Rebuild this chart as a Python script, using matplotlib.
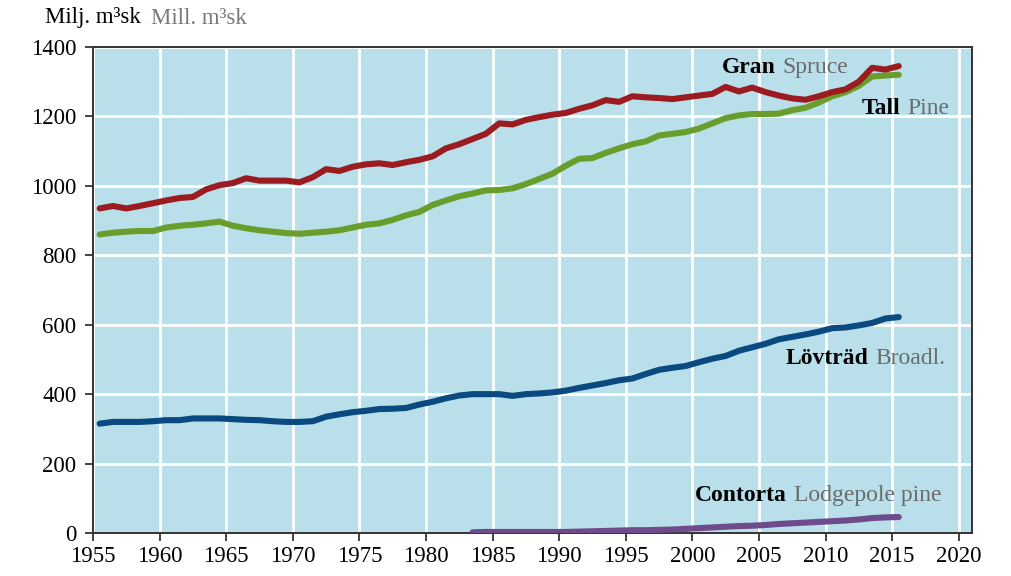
import matplotlib
matplotlib.use("Agg")
import matplotlib.pyplot as plt
import numpy as np

years = list(range(1955, 2016))
spruce = [935, 942, 935, 942, 950, 958, 965, 968, 990, 1002,
          1008, 1022, 1015, 1015, 1015, 1010, 1025, 1048, 1043, 1055,
          1062, 1065, 1060, 1068, 1075, 1085, 1108, 1120, 1135, 1150,
          1180, 1177, 1190, 1198, 1205, 1210, 1222, 1232, 1247, 1242,
          1258, 1255, 1253, 1250, 1255, 1260, 1265, 1285, 1272, 1283,
          1270, 1260, 1252, 1248, 1258, 1270, 1278, 1300, 1340, 1335,
          1345]
pine = [860, 865, 868, 870, 870, 880, 885, 888, 892, 897,
        885, 878, 872, 868, 864, 862, 865, 868, 872, 880,
        888, 892, 902, 915, 925, 945, 958, 970, 978, 987,
        988, 993, 1005, 1020, 1035, 1058, 1078, 1080, 1095, 1108,
        1120, 1128, 1145, 1150, 1155, 1165, 1180, 1195, 1203, 1207,
        1207, 1208, 1218, 1225, 1240, 1258, 1270, 1288, 1315, 1318,
        1320]
broadleaf = [315, 320, 320, 320, 322, 325, 325, 330, 330, 330,
             328, 326, 325, 322, 320, 320, 322, 335, 342, 348,
             352, 357, 358, 360, 370, 378, 388, 396, 400, 400,
             400, 395, 400, 402, 405, 410, 418, 425, 432, 440,
             445, 458, 470, 476, 481, 492, 502, 510, 525, 535,
             545, 558, 565, 572, 580, 590, 592, 598, 605, 618,
             622]
contorta_years = list(range(1983, 2016))
contorta = [2, 3, 3, 3, 3, 3, 3, 3, 4, 5,
            6, 7, 8, 8, 9, 10, 12, 14, 16, 18,
            20, 21, 23, 26, 28, 30, 32, 34, 36, 39,
            43, 45, 46]

plt.rcParams['font.family'] = ['Liberation Serif', 'DejaVu Serif']

fig = plt.figure(figsize=(10.12, 5.76), dpi=100)
ax = fig.add_axes([93/1012, 1-533/576, (972-93)/1012, (533-47)/576])
ax.set_facecolor('#B9E0EA')

x = np.array(years) + 0.5
xc = np.array(contorta_years) + 0.5
lw = 4.4
ax.plot(x, broadleaf, color='#0B4A80', lw=lw, solid_capstyle='round', zorder=3)
ax.plot(xc, contorta, color='#6E4C8C', lw=lw, solid_capstyle='round', zorder=3)
ax.plot(x, pine, color='#6A9E2C', lw=lw, solid_capstyle='round', zorder=3)
ax.plot(x, spruce, color='#9B1B20', lw=lw, solid_capstyle='round', zorder=4)

ax.set_xlim(1955, 2021)
ax.set_ylim(0, 1400)
ax.set_xticks(range(1955, 2021, 5))
ax.set_yticks(range(0, 1401, 200))
ax.grid(True, color='white', lw=2)
ax.set_axisbelow(True)
ax.tick_params(axis='both', labelsize=16.5, direction='out', length=6, width=1.2, colors='#222222', labelcolor='black')
ax.tick_params(axis='y', pad=6)
for s in ax.spines.values():
    s.set_color('#333333')
    s.set_linewidth(1.4)

def label(xp, yp, bold, light):
    t = ax.text(xp, yp, bold, fontsize=17, fontweight='bold', color='black', va='center', ha='left', zorder=5)
    ax.annotate(light, xy=(1, 0), xycoords=t, xytext=(5, 0), textcoords='offset points',
                fontsize=17, color='#6B6B6B', va='bottom', ha='left', zorder=5)

label(2002.2, 1340, 'Gran', 'Spruce')
label(2012.7, 1224, 'Tall', 'Pine')
label(2007.0, 504, 'Lövträd', 'Broadl.')
label(2000.2, 109, 'Contorta', 'Lodgepole pine')

t = fig.text(45/1012, 1-18/576, 'Milj. m³sk', fontsize=16.5, color='black', va='center', ha='left')
fig.canvas.draw()
bb = t.get_window_extent()
fig.text((bb.x1 + 10) / fig.bbox.width, 1-18/576, 'Mill. m³sk', fontsize=16.5, color='#7A7A7A', va='center', ha='left')

fig.savefig('out.png', dpi=100)
